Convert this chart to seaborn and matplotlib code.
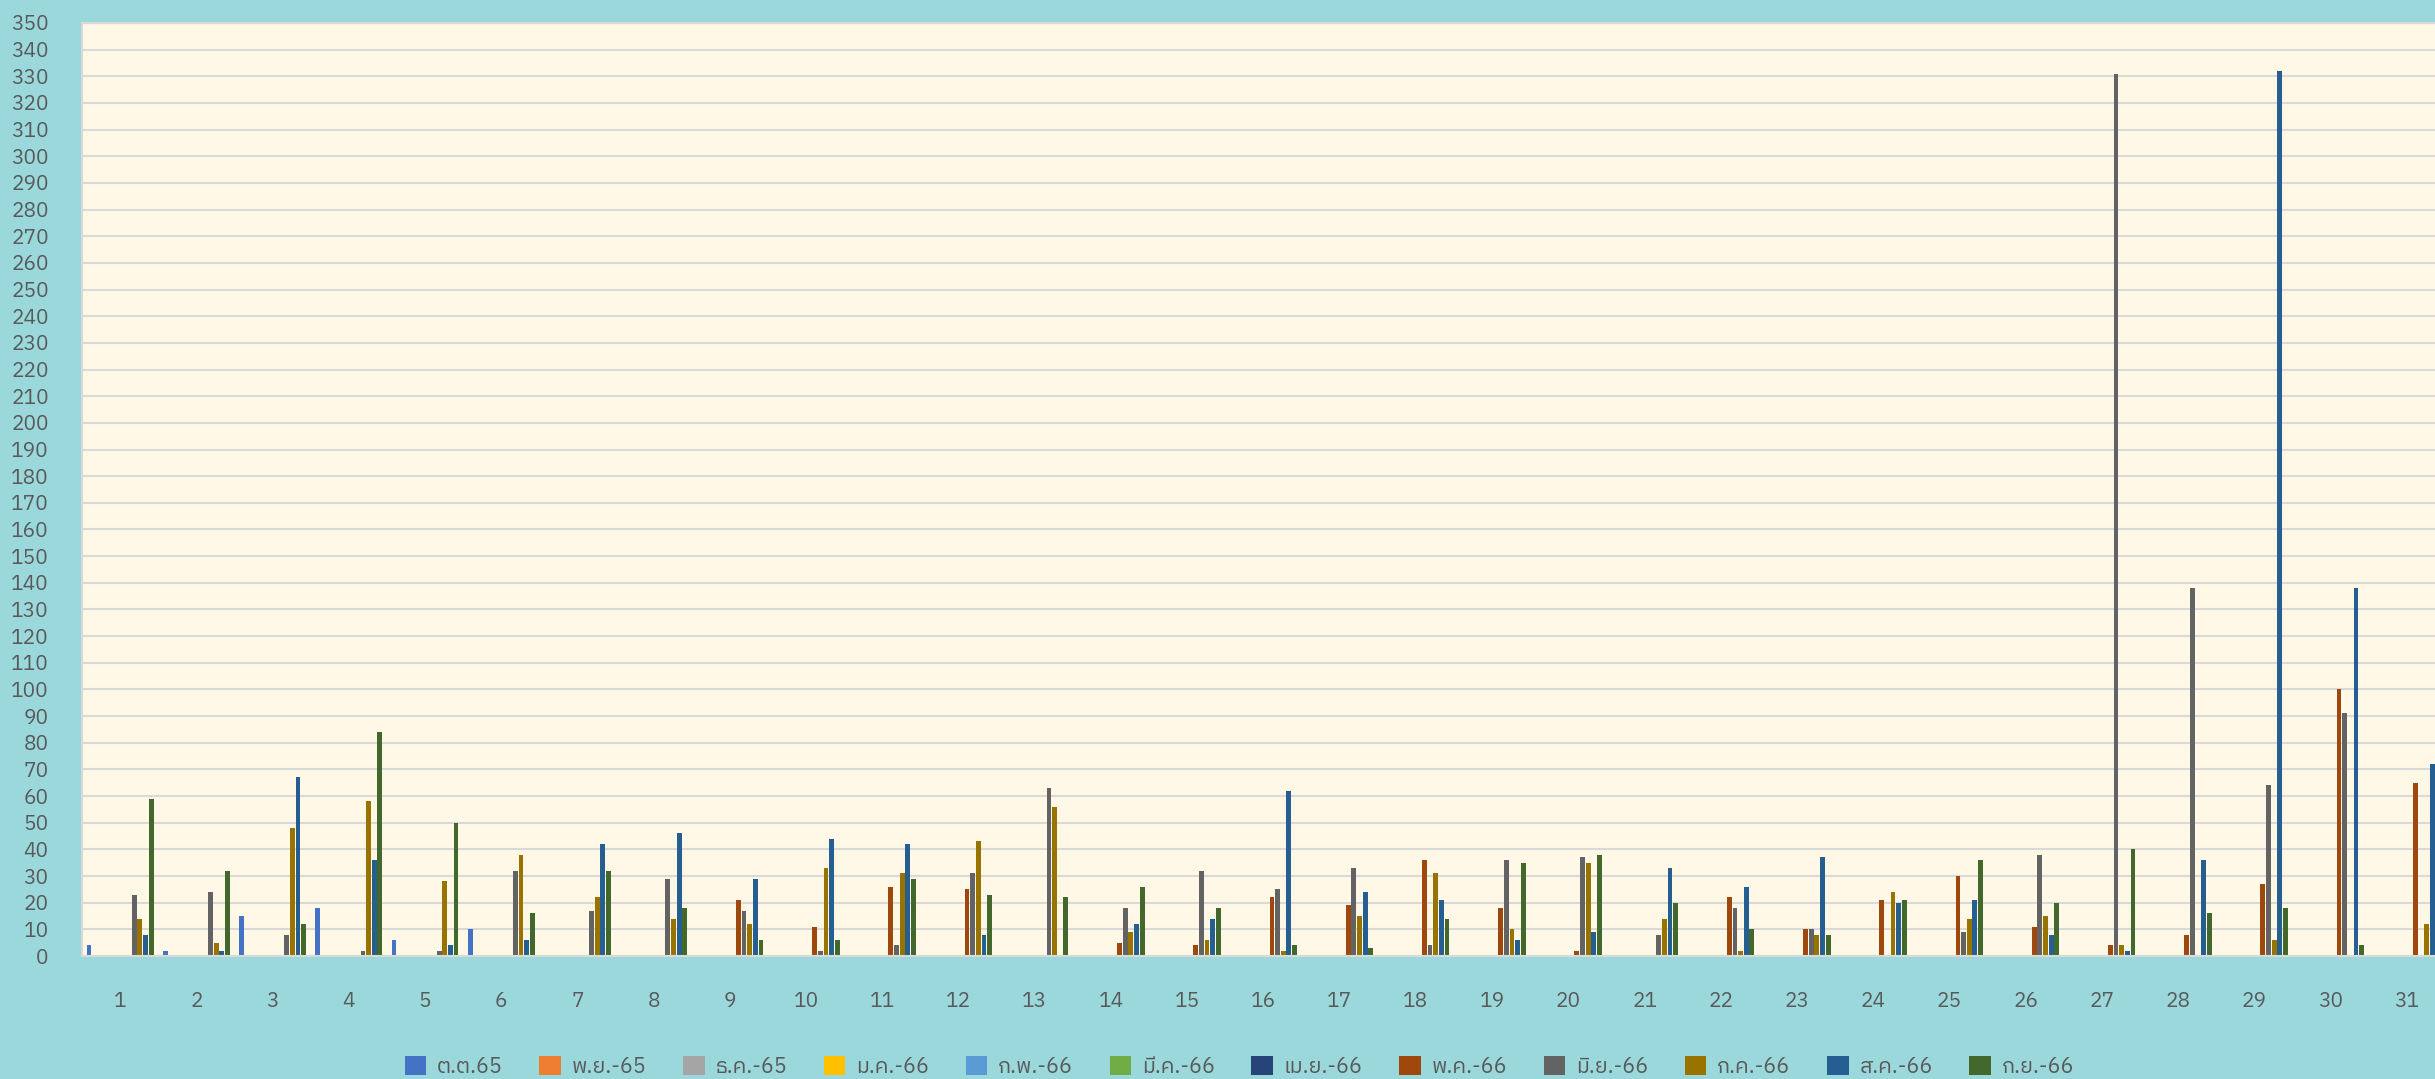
import pandas as pd
import numpy as np
import matplotlib
matplotlib.use('Agg')
import matplotlib.pyplot as plt
import seaborn as sns
from matplotlib import font_manager

# ข้อมูลรายวัน (วันที่ 1-31) แยกตามเดือน
days = [str(d) for d in range(1, 32)]
months = ['ต.ต.65', 'พ.ย.-65', 'ธ.ค.-65', 'ม.ค.-66', 'ก.พ.-66', 'มี.ค.-66',
          'เม.ย.-66', 'พ.ค.-66', 'มิ.ย.-66', 'ก.ค.-66', 'ส.ค.-66', 'ก.ย.-66']
colors = ['#4472C4', '#ED7D31', '#A5A5A5', '#FFC000', '#5B9BD5', '#70AD47',
          '#264478', '#9E480E', '#636363', '#997300', '#255E91', '#43682B']

oct65 = [4, 2, 15, 18, 6, 10] + [0] * 25
nov65 = [0] * 31
dec65 = [0] * 31
jan66 = [0] * 31
feb66 = [0] * 31
mar66 = [0] * 31
apr66 = [0] * 31
may66 = [0, 0, 0, 0, 0, 0, 0, 0, 21, 11, 26, 25, 0, 5, 4, 22,
         19, 36, 18, 2, 0, 22, 10, 21, 30, 11, 4, 8, 27, 100, 65]
jun66 = [23, 24, 8, 2, 2, 32, 17, 29, 17, 2, 4, 31, 63, 18, 32, 25,
         33, 4, 36, 37, 8, 18, 10, 0, 9, 38, 331, 138, 64, 91, 0]
jul66 = [14, 5, 48, 58, 28, 38, 22, 14, 12, 33, 31, 43, 56, 9, 6, 2,
         15, 31, 10, 35, 14, 2, 8, 24, 14, 15, 4, 0, 6, 0, 12]
aug66 = [8, 2, 67, 36, 4, 6, 42, 46, 29, 44, 42, 8, 0, 12, 14, 62,
         24, 21, 6, 9, 33, 26, 37, 20, 21, 8, 2, 36, 332, 138, 72]
sep66 = [59, 32, 12, 84, 50, 16, 32, 18, 6, 6, 29, 23, 22, 26, 18, 4,
         3, 14, 35, 38, 20, 10, 8, 21, 36, 20, 40, 16, 18, 4, 0]

series = [oct65, nov65, dec65, jan66, feb66, mar66, apr66,
          may66, jun66, jul66, aug66, sep66]
df = pd.DataFrame({m: v for m, v in zip(months, series)}, index=days)
df.index.name = 'day'
long = df.reset_index().melt(id_vars='day', var_name='month', value_name='value')

# ฟอนต์ภาษาไทย (ถ้ามี)
thai = sorted({f.name for f in font_manager.fontManager.ttflist if 'Thai' in f.name})
family = thai[:1] + ['DejaVu Sans']
plt.rcParams['font.family'] = family

text_color = '#595959'
fig = plt.figure(figsize=(24.35, 10.79), dpi=100, facecolor='#9AD8DB')
ax = fig.add_axes([82 / 2435, 123 / 1079, 1 - 82 / 2435, 933 / 1079])
ax.set_facecolor('#FFF8E6')

sns.barplot(data=long, x='day', y='value', hue='month', order=days,
            hue_order=months, palette=colors, saturation=1, width=0.89, gap=0.15,
            linewidth=0, errorbar=None, ax=ax)

ax.set_xlim(-0.5, 30.37)
ax.set_ylim(0, 350)
ax.set_yticks(range(0, 351, 10))
ax.yaxis.grid(True, color='#D9D9D9', linewidth=1.5)
ax.set_axisbelow(True)
ax.set_xlabel('')
ax.set_ylabel('')
ax.tick_params(length=0, labelsize=15, labelcolor=text_color)
ax.tick_params(axis='y', pad=24)
ax.tick_params(axis='x', pad=26)
for s in ['top', 'left', 'bottom']:
    ax.spines[s].set_color('#D9D9D9')
    ax.spines[s].set_linewidth(1.5)
ax.spines['right'].set_visible(False)

handles, labels = ax.get_legend_handles_labels()
ax.get_legend().remove()
fig.legend(handles, labels, loc='center', bbox_to_anchor=(0.509, 1 - 1067 / 1079),
           ncol=12, frameon=False, fontsize=15.5, handlelength=1.0, handleheight=1.0,
           columnspacing=1.7, handletextpad=0.5, labelcolor=text_color)

fig.savefig('out.png', dpi=100, facecolor=fig.get_facecolor())
